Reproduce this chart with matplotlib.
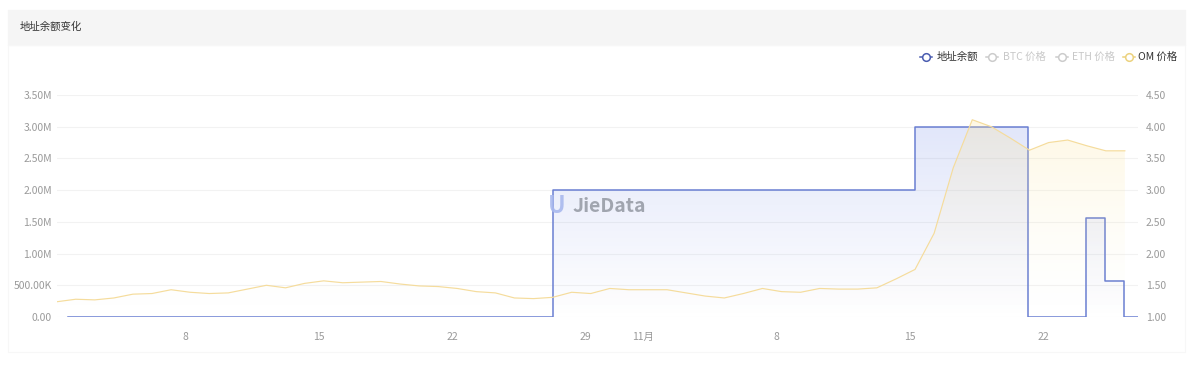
import numpy as np
import pandas as pd
import matplotlib
matplotlib.use('Agg')
import matplotlib.pyplot as plt
import matplotlib.dates as mdates
from matplotlib.ticker import FuncFormatter
from matplotlib.patches import Rectangle
from matplotlib.lines import Line2D

plt.rcParams['font.family'] = ['Noto Sans CJK SC', 'DejaVu Sans']

# OM price, one point a day from Oct 1
om_start = '2024-10-01 06:30'
om_price = [1.24, 1.28, 1.27, 1.30, 1.36, 1.37, 1.43, 1.39, 1.37, 1.38,
            1.44, 1.50, 1.46, 1.53, 1.57, 1.54, 1.55, 1.56, 1.52, 1.49,
            1.48, 1.45, 1.40, 1.38, 1.30, 1.29, 1.31, 1.39, 1.37, 1.45,
            1.43, 1.43, 1.43, 1.38, 1.33, 1.30, 1.37, 1.45, 1.40, 1.39,
            1.45, 1.44, 1.44, 1.46, 1.60, 1.75, 2.32, 3.35, 4.11, 4.00,
            3.82, 3.63, 3.75, 3.79, 3.70, 3.62, 3.62]

# address balance (value holds until the next change)
bal_time = ['2024-10-01 21:00', '2024-10-27 06:30', '2024-11-15 06:45',
            '2024-11-21 05:00', '2024-11-24 06:00', '2024-11-25 05:00',
            '2024-11-26 06:00', '2024-11-26 23:00']
bal_value = [0, 2.0e6, 3.0e6, 0, 1.56e6, 0.56e6, 0, 0]

tick_dates = ['2024-10-08', '2024-10-15', '2024-10-22', '2024-10-29',
              '2024-11-01', '2024-11-08', '2024-11-15', '2024-11-22']
tick_labels = ['8', '15', '22', '29', '11月', '8', '15', '22']

legend_names = ['地址余额', 'BTC 价格', 'ETH 价格', 'OM 价格']

om_x = mdates.date2num(pd.date_range(om_start, periods=len(om_price), freq='D'))
bal_x = mdates.date2num(pd.to_datetime(bal_time))
om_y = np.array(om_price)
bal_y = np.array(bal_value)

blue = '#6a7fd2'
yellow = '#f5dc9c'
label_col = '#9a9a9a'

W, H = 1199, 368
fig = plt.figure(figsize=(W / 100, H / 100), dpi=100)
fig.patch.set_facecolor('white')

# header band and faint card border
fig.patches.append(Rectangle((8 / W, 1 - 45 / H), 1177 / W, 35 / H,
                             transform=fig.transFigure, color='#f5f5f5', zorder=0))
fig.patches.append(Rectangle((8 / W, 1 - 352 / H), 1177 / W, 307 / H,
                             transform=fig.transFigure, fill=False,
                             edgecolor='#f7f7f7', lw=0.8, zorder=0))
fig.text(20 / W, 1 - 27 / H, '地址余额变化', fontsize=7.5, color='#333333', va='center')

ax = fig.add_axes([56.6 / W, 1 - 317 / H, (1138 - 56.6) / W, (317 - 95) / H])
ax2 = ax.twinx()

x0, x1 = om_x[0], bal_x[-1]
ax.set_xlim(x0, x1)
ax.set_ylim(0, 3.5e6)
ax2.set_ylim(1.0, 4.5)

ax.set_yticks(np.arange(0, 3.51e6, 0.5e6))
ax2.set_yticks(np.arange(1.0, 4.51, 0.5))
ax.grid(axis='y', color='#f2f2f2', lw=0.8)
ax.set_axisbelow(True)


def fmt_left(v, pos):
    if v == 0:
        return '0.00'
    if v < 1e6:
        return '%.2fK' % (v / 1e3)
    return '%.2fM' % (v / 1e6)


ax.yaxis.set_major_formatter(FuncFormatter(fmt_left))
ax2.yaxis.set_major_formatter(FuncFormatter(lambda v, p: '%.2f' % v))

ax.set_xticks(mdates.date2num(pd.to_datetime(tick_dates)))
ax.set_xticklabels(tick_labels)
for t in ax.get_xticklabels():
    if t.get_text() == '11月':
        t.set_color('#777777')

for a in (ax, ax2):
    for s in a.spines.values():
        s.set_visible(False)
ax.tick_params(axis='both', length=0, labelsize=7.5, labelcolor=label_col)
ax.tick_params(axis='y', pad=3.5)
ax.tick_params(axis='x', pad=11)
ax2.tick_params(axis='y', length=0, labelsize=7.5, labelcolor=label_col, pad=5.5)

# OM price line with faint yellow fill (drawn under the balance)
poly2 = ax2.fill_between(om_x, om_y, 1.0, color='none', lw=0)
grad2 = np.zeros((256, 1, 4))
grad2[:, 0, 0:3] = [0.99, 0.90, 0.62]
grad2[:, 0, 3] = np.linspace(0.0, 1.0, 256) ** 1.5 * 0.28
im2 = ax2.imshow(grad2, extent=[x0, x1, 1.0, om_y.max()], origin='lower',
                 aspect='auto', zorder=1, interpolation='bilinear')
im2.set_clip_path(poly2.get_paths()[0], transform=ax2.transData)
ax2.plot(om_x, om_y, color=yellow, lw=0.85, zorder=2)
ax2.set_xlim(x0, x1)

# balance gradient fill
poly = ax.fill_between(bal_x, bal_y, 0, step='post', color='none', lw=0)
grad = np.zeros((256, 1, 4))
grad[:, 0, 0:3] = [0.42, 0.52, 0.90]
grad[:, 0, 3] = np.linspace(0.0, 0.20, 256)
im = ax.imshow(grad, extent=[x0, x1, 0, bal_y.max()], origin='lower',
               aspect='auto', zorder=1, interpolation='bilinear')
im.set_clip_path(poly.get_paths()[0], transform=ax.transData)
ax.step(bal_x, bal_y, where='post', color=blue, lw=1.1, zorder=3)

# watermark
fig.text(557 / W, 1 - 206 / H, 'U', fontsize=17, fontweight='bold', color='#a9b9ee',
         ha='center', va='center', alpha=0.9)
fig.text(573 / W, 1 - 207 / H, 'JieData', fontsize=14, fontweight='bold',
         color='#8d929c', ha='left', va='center', alpha=0.8)

# legend
leg_mark_x = [920, 986, 1056, 1123]
leg_text_x = [937, 1003, 1072, 1138]
leg_colors = ['#4a5cb0', '#cccccc', '#cccccc', '#ecd27e']
leg_text_colors = ['#333333', '#c8c8c8', '#c8c8c8', '#333333']
ly = 1 - 57 / H
for name, mx, tx, mc, tc in zip(legend_names, leg_mark_x, leg_text_x,
                                leg_colors, leg_text_colors):
    fig.lines.append(Line2D([mx / W, (mx + 12) / W], [ly, ly], transform=fig.transFigure,
                            color=mc, lw=1.1))
    fig.lines.append(Line2D([(mx + 6) / W], [ly], transform=fig.transFigure, marker='o',
                            ms=5.5, mfc='white', mec=mc, mew=1.1, lw=0))
    fig.text(tx / W, ly, name, fontsize=7.5, color=tc, va='center', ha='left')

fig.savefig('out.png', dpi=100)
